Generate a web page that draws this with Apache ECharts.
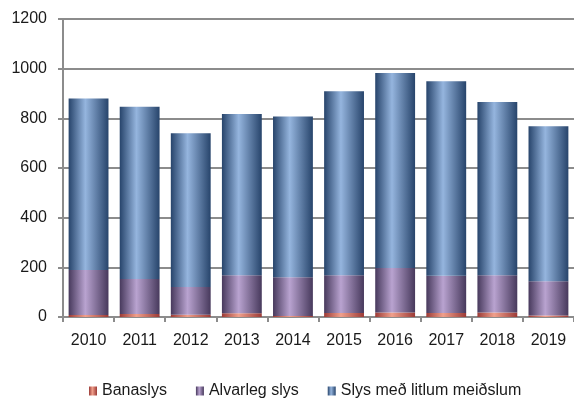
<!DOCTYPE html>
<html>
<head>
<meta charset="utf-8">
<title>Slys</title>
<script src="https://cdn.jsdelivr.net/npm/echarts@6/dist/echarts.min.js"></script>
<style>
  html, body { margin: 0; padding: 0; background: #fff; }
  #main { width: 574px; height: 401px; }
</style>
</head>
<body>
<div id="main"></div>
<script type="text/javascript">
var years = ['2010', '2011', '2012', '2013', '2014', '2015', '2016', '2017', '2018', '2019'];
var banaslys = [8, 12, 9, 15, 4, 16, 18, 16, 18, 6];
var alvarleg = [181, 141, 112, 153, 156, 152, 179, 150, 150, 138];
var litlum = [691, 694, 619, 649, 647, 741, 786, 783, 698, 624];

// horizontal gradient like the shaded columns
function shade(dark, light) {
    return new echarts.graphic.LinearGradient(0, 0, 1, 0, [
        { offset: 0, color: dark },
        { offset: 0.42, color: light },
        { offset: 1, color: dark }
    ]);
}

var fontFam = '"Liberation Sans", Arial, sans-serif';
var myChart = echarts.init(document.getElementById('main'));

function serie(name, data, dark, light) {
    return {
        name: name,
        type: 'bar',
        stack: 'all',
        barWidth: '78%',
        data: data,
        itemStyle: { color: shade(dark, light) }
    };
}

myChart.setOption({
    animation: false,
    grid: { left: 63, right: -2, top: 19, bottom: 84 },
    legend: {
        top: 378,
        left: 84,
        icon: 'rect',
        itemWidth: 8,
        itemHeight: 9,
        itemGap: 29,
        textStyle: { fontFamily: fontFam, fontSize: 16, color: '#1a1a1a' },
        data: ['Banaslys', 'Alvarleg slys', 'Slys með litlum meiðslum']
    },
    xAxis: {
        type: 'category',
        data: years,
        axisLine: { lineStyle: { color: '#8c8c8c', width: 2 } },
        axisTick: { show: true, length: 5, lineStyle: { color: '#8c8c8c', width: 2 } },
        axisLabel: { fontFamily: fontFam, fontSize: 16, color: '#1a1a1a', margin: 16 }
    },
    yAxis: {
        type: 'value',
        min: 0,
        max: 1200,
        interval: 200,
        axisLine: { show: true, lineStyle: { color: '#8c8c8c', width: 2 } },
        axisTick: { show: true, length: 5, lineStyle: { color: '#8c8c8c', width: 2 } },
        axisLabel: { fontFamily: fontFam, fontSize: 16, color: '#1a1a1a', margin: 16,
            formatter: function (v) { return String(v); } },
        splitLine: { lineStyle: { color: '#8c8c8c', width: 2 } }
    },
    series: [
        serie('Banaslys', banaslys, '#9b3a36', '#f0a08c'),
        serie('Alvarleg slys', alvarleg, '#47395c', '#b9a3d0'),
        serie('Slys með litlum meiðslum', litlum, '#27446b', '#95b5de')
    ]
});
</script>
</body>
</html>
